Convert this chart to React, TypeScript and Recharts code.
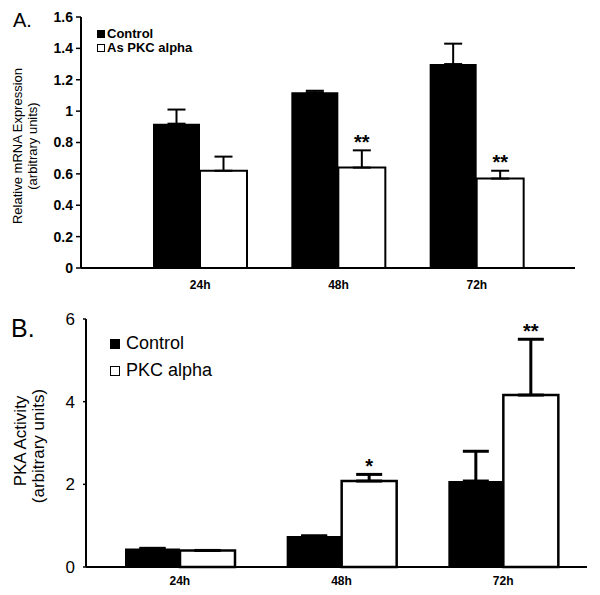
import { BarChart, Bar, XAxis, YAxis, ErrorBar, LabelList, Legend } from "recharts";

const FONT = '"Liberation Sans", Arial, sans-serif';

const TIMES = ["24h", "48h", "72h"];

// A. relative mRNA expression
const A_CONTROL = [0.92, 1.12, 1.3];
const A_CONTROL_ERR = [0.09, 0.01, 0.13];
const A_PKC = [0.62, 0.64, 0.57];
const A_PKC_ERR = [0.09, 0.11, 0.05];
const A_SIG = ["", "**", "**"];
const A_TICKS = [0, 0.2, 0.4, 0.6, 0.8, 1, 1.2, 1.4, 1.6];

// B. PKA activity
const B_CONTROL = [0.45, 0.75, 2.08];
const B_CONTROL_ERR = [0, 0, 0.72];
const B_PKC = [0.4, 2.08, 4.16];
const B_PKC_ERR = [0, 0.16, 1.35];
const B_SIG = ["", "*", "**"];
const B_TICKS = [0, 2, 4, 6];

type Row = {
  time: string;
  control: number;
  controlErr: number[];
  pkc: number;
  pkcErr: number[];
  sig: string;
};

function buildRows(control: number[], controlErr: number[], pkc: number[], pkcErr: number[], sig: string[]): Row[] {
  return TIMES.map((time, i) => ({
    time,
    control: control[i],
    controlErr: [0, controlErr[i]],
    pkc: pkc[i],
    pkcErr: [0, pkcErr[i]],
    sig: sig[i],
  }));
}

const rowsA = buildRows(A_CONTROL, A_CONTROL_ERR, A_PKC, A_PKC_ERR, A_SIG);
const rowsB = buildRows(B_CONTROL, B_CONTROL_ERR, B_PKC, B_PKC_ERR, B_SIG);

// stars sit above the error bar; error length in px comes from the bar's own height
function sigLabel(rows: Row[], gap: number, fontSize: number) {
  return (props: any) => {
    const row = rows[props.index];
    if (!row || !row.sig) return null;
    const box = props.viewBox ?? props;
    const { x, y, width, height } = box;
    const errPx = row.pkc ? (row.pkcErr[1] * Math.abs(height)) / row.pkc : 0;
    const cy = y - errPx - gap;
    return (
      <text x={x + width / 2} y={cy + fontSize * 0.57} textAnchor="middle" fontSize={fontSize} fontWeight="bold" fontFamily={FONT} fill="#000">
        {row.sig}
      </text>
    );
  };
}

function legendContent(fontSize: number, fontWeight: string, square: number, rowHeight: number, gap: number) {
  return ({ payload }: any) => (
    <div style={{ fontFamily: FONT, fontSize, fontWeight, lineHeight: `${rowHeight}px`, color: "#000", whiteSpace: "nowrap" }}>
      {(payload ?? []).map((p: any) => (
        <div key={p.value} style={{ display: "flex", alignItems: "center", gap, height: rowHeight }}>
          <span
            style={{
              display: "inline-block",
              width: square,
              height: square,
              background: p.payload?.fill ?? p.color,
              border: "1.5px solid #000",
              boxSizing: "border-box",
            }}
          />
          {p.value}
        </div>
      ))}
    </div>
  );
}

function RotLabel({ text, cx, cy, size }: { text: string; cx: number; cy: number; size: number }) {
  return (
    <div
      style={{
        position: "absolute",
        left: cx,
        top: cy,
        transform: "translate(-50%, -50%) rotate(-90deg)",
        whiteSpace: "nowrap",
        lineHeight: 1,
        fontSize: size,
        fontFamily: FONT,
        color: "#000",
      }}
    >
      {text}
    </div>
  );
}

const axisLine = { stroke: "#000", strokeWidth: 2 };

export default function App() {
  return (
    <div style={{ position: "absolute", left: 0, top: 0, width: 600, height: 595, background: "#fff", fontFamily: FONT }}>
      {/* Panel A */}
      <div style={{ position: "absolute", left: 0, top: 0 }}>
        <BarChart width={600} height={295} data={rowsA} margin={{ top: 17, right: 25, bottom: 7, left: 0 }} barGap={0}>
          <XAxis
            dataKey="time"
            height={20}
            padding={{ left: 50, right: 29 }}
            tickLine={false}
            tickSize={0}
            tickMargin={12}
            axisLine={axisLine}
            tick={{ fill: "#000", fontSize: 12, fontWeight: "bold", fontFamily: FONT }}
          />
          <YAxis
            width={81}
            domain={[0, 1.6]}
            ticks={A_TICKS}
            interval={0}
            tickSize={5}
            tickMargin={3}
            tickFormatter={(v: number) => String(v)}
            tickLine={{ stroke: "#000", strokeWidth: 1.5 }}
            axisLine={axisLine}
            tick={{ fill: "#000", fontSize: 14, fontWeight: "bold", fontFamily: FONT }}
          />
          <Legend
            layout="vertical"
            align="center"
            verticalAlign="middle"
            itemSorter="dataKey"
            wrapperStyle={{ left: 97, top: 27, width: "auto", height: "auto" }}
            content={legendContent(13, "bold", 8, 14, 2)}
          />
          <Bar dataKey="control" name="Control" fill="#000" barSize={47} isAnimationActive={false}>
            <ErrorBar dataKey="controlErr" width={9} stroke="#000" strokeWidth={2} isAnimationActive={false} />
          </Bar>
          <Bar dataKey="pkc" name="As PKC alpha" fill="#fff" stroke="#000" strokeWidth={2} barSize={47} isAnimationActive={false}>
            <ErrorBar dataKey="pkcErr" width={9} stroke="#000" strokeWidth={2} isAnimationActive={false} />
            <LabelList dataKey="sig" content={sigLabel(rowsA, 13, 20)} />
          </Bar>
        </BarChart>
      </div>
      <div style={{ position: "absolute", left: 13, top: 10, fontSize: 20, lineHeight: 1, fontFamily: FONT }}>A.</div>
      <RotLabel text="Relative mRNA Expression" cx={17} cy={146} size={13} />
      <RotLabel text="(arbitrary units)" cx={32} cy={146} size={13} />

      {/* Panel B */}
      <div style={{ position: "absolute", left: 0, top: 295 }}>
        <BarChart width={600} height={300} data={rowsB} margin={{ top: 24, right: 13, bottom: 8, left: 0 }} barGap={0}>
          <XAxis
            dataKey="time"
            height={20}
            padding={{ left: 13, right: 3 }}
            tickLine={false}
            tickSize={0}
            tickMargin={9}
            axisLine={axisLine}
            tick={{ fill: "#000", fontSize: 12, fontWeight: "bold", fontFamily: FONT }}
          />
          <YAxis
            width={86}
            domain={[0, 6]}
            ticks={B_TICKS}
            interval={0}
            tickSize={3}
            tickMargin={8}
            tickLine={{ stroke: "#000", strokeWidth: 1.5 }}
            axisLine={axisLine}
            tick={{ fill: "#000", fontSize: 17, fontFamily: FONT }}
          />
          <Legend
            layout="vertical"
            align="center"
            verticalAlign="middle"
            itemSorter="dataKey"
            wrapperStyle={{ left: 110, top: 35, width: "auto", height: "auto" }}
            content={legendContent(18, "normal", 10, 27, 6)}
          />
          <Bar dataKey="control" name="Control" fill="#000" barSize={55} isAnimationActive={false}>
            <ErrorBar dataKey="controlErr" width={13} stroke="#000" strokeWidth={3} isAnimationActive={false} />
          </Bar>
          <Bar dataKey="pkc" name="PKC alpha" fill="#fff" stroke="#000" strokeWidth={2.5} barSize={55} isAnimationActive={false}>
            <ErrorBar dataKey="pkcErr" width={13} stroke="#000" strokeWidth={3} isAnimationActive={false} />
            <LabelList dataKey="sig" content={sigLabel(rowsB, 13, 20)} />
          </Bar>
        </BarChart>
      </div>
      <div style={{ position: "absolute", left: 11, top: 316, fontSize: 25, lineHeight: 1, fontFamily: FONT }}>B.</div>
      <RotLabel text="PKA Activity" cx={20} cy={441} size={17} />
      <RotLabel text="(arbitrary units)" cx={38} cy={446} size={17} />
    </div>
  );
}
